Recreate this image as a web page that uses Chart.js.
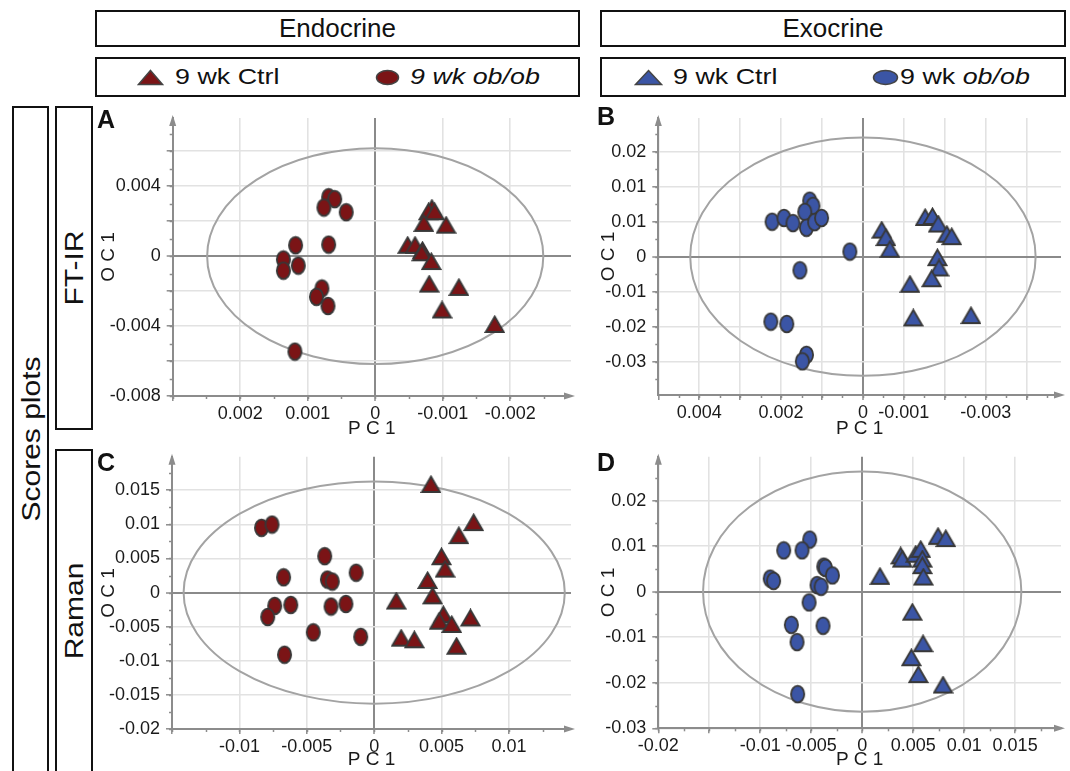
<!DOCTYPE html>
<html>
<head>
<meta charset="utf-8">
<script src="https://cdn.jsdelivr.net/npm/chart.js@4.4.1/dist/chart.umd.min.js"></script>
<style>
body { margin: 0; background: #fff; font-family: "Liberation Sans", Arial, sans-serif; color: #111; }
#page { position: relative; width: 1070px; height: 771px; overflow: hidden; }
.box { position: absolute; border: 2px solid #111; box-sizing: border-box; background: #fff; }
.abs { position: absolute; white-space: nowrap; }
.head { display: flex; align-items: center; justify-content: center; font-size: 26px; }
.leg { font-size: 22px; line-height: 22px; transform: scaleX(1.22); transform-origin: left center; }
.vert { font-size: 25px; line-height: 25px; transform: translate(-50%, -50%) rotate(-90deg) scaleX(1.2); }
.letter { font-weight: bold; font-size: 25px; line-height: 25px; }
canvas { position: absolute; }
</style>
</head>
<body>
<div id="page">
  <div class="box head" style="left:95px;top:10px;width:485px;height:37px;">Endocrine</div>
  <div class="box head" style="left:600px;top:10px;width:466px;height:37px;">Exocrine</div>
  <div class="box" style="left:95px;top:57px;width:485px;height:40px;"></div>
  <div class="box" style="left:600px;top:57px;width:466px;height:40px;"></div>

  <svg class="abs" style="left:137px;top:69px" width="27" height="17"><polygon points="13.5,1.5 25.5,15.5 1.5,15.5" fill="#7b1416" stroke="#444" stroke-width="1.5"/></svg>
  <div class="abs leg" style="left:175px;top:66px;">9 wk Ctrl</div>
  <svg class="abs" style="left:375px;top:69px" width="25" height="17"><ellipse cx="12.5" cy="8.5" rx="11" ry="7" fill="#7b1416" stroke="#444" stroke-width="1.5"/></svg>
  <div class="abs leg" style="left:410px;top:66px;font-style:italic;">9 wk ob/ob</div>

  <svg class="abs" style="left:634px;top:69px" width="29" height="17"><polygon points="14.5,1.5 27.5,15.5 1.5,15.5" fill="#3b55a5" stroke="#444" stroke-width="1.5"/></svg>
  <div class="abs leg" style="left:673px;top:66px;">9 wk Ctrl</div>
  <svg class="abs" style="left:872px;top:69px" width="27" height="17"><ellipse cx="13.5" cy="8.5" rx="12" ry="7" fill="#3b55a5" stroke="#444" stroke-width="1.5"/></svg>
  <div class="abs leg" style="left:900px;top:66px;">9 wk <i>ob/ob</i></div>

  <div class="box" style="left:12px;top:106px;width:37px;height:690px;"></div>
  <div class="box" style="left:55px;top:106px;width:38px;height:324px;"></div>
  <div class="box" style="left:55px;top:449px;width:38px;height:340px;"></div>
  <div class="abs vert" style="left:31px;top:439px;">Scores plots</div>
  <div class="abs vert" style="left:74px;top:268px;">FT-IR</div>
  <div class="abs vert" style="left:74px;top:611px;">Raman</div>

  <canvas id="chartA" width="490" height="340" style="left:90px;top:100px;"></canvas>
  <canvas id="chartB" width="485" height="340" style="left:585px;top:100px;"></canvas>
  <canvas id="chartC" width="490" height="331" style="left:90px;top:440px;"></canvas>
  <canvas id="chartD" width="485" height="331" style="left:585px;top:440px;"></canvas>

  <div class="abs letter" style="left:97px;top:107px;">A</div>
  <div class="abs letter" style="left:597px;top:104px;">B</div>
  <div class="abs letter" style="left:97px;top:450px;">C</div>
  <div class="abs letter" style="left:597px;top:450px;">D</div>
</div>

<script>
// A: endocrine, FT-IR
const endoFtirCtrlX = [-0.00084, -0.00079, -0.00088, -0.00072, -0.00105, -0.00048, -0.00059, -0.00070, -0.00069, -0.00083, -0.00080, -0.00124, -0.00099, -0.00177];
const endoFtirCtrlY = [0.00274, 0.00254, 0.00254, 0.00187, 0.00177, 0.00062, 0.00062, 0.00033, 0.00019, -0.00031, -0.00160, -0.00179, -0.00308, -0.00391];
const endoFtirObX = [0.00069, 0.00060, 0.00076, 0.00043, 0.00118, 0.00069, 0.00136, 0.00136, 0.00114, 0.00079, 0.00087, 0.00070, 0.00119];
const endoFtirObY = [0.00337, 0.00326, 0.00278, 0.00251, 0.00062, 0.00066, -0.00019, -0.00083, -0.00054, -0.00185, -0.00233, -0.00285, -0.00546];
const endoFtirXTicks = [0.002, 0.001, 0, -0.001, -0.002];
const endoFtirXLabels = ['0.002', '0.001', '0', '-0.001', '-0.002'];
const endoFtirYTicks = [0.004, 0, -0.004, -0.008];
const endoFtirYLabels = ['0.004', '0', '-0.004', '-0.008'];

// B: exocrine, FT-IR
const exoFtirCtrlX = [-0.00046, -0.00056, -0.00066, -0.00152, -0.00170, -0.00184, -0.00205, -0.00217, -0.00182, -0.00186, -0.00168, -0.00115, -0.00123, -0.00264];
const exoFtirCtrlY = [0.0057, 0.0041, 0.0016, 0.0084, 0.0086, 0.0070, 0.0048, 0.0043, -0.0002, -0.0024, -0.0047, -0.0059, -0.0131, -0.0126];
const exoFtirObX = [0.00130, 0.00122, 0.00142, 0.00222, 0.00193, 0.00171, 0.00138, 0.00118, 0.00101, 0.00032, 0.00154, 0.00225, 0.00186, 0.00138, 0.00148];
const exoFtirObY = [0.0120, 0.0109, 0.0096, 0.0075, 0.0083, 0.0072, 0.0062, 0.0074, 0.0083, 0.0011, -0.0029, -0.0139, -0.0144, -0.0210, -0.0224];
const exoFtirXTicks = [0.004, 0.002, 0, -0.001, -0.003];
const exoFtirXLabels = ['0.004', '0.002', '0', '-0.001', '-0.003'];
const exoFtirYTicks = [0.0225, 0.015, 0.0075, 0, -0.0075, -0.015, -0.0225];
const exoFtirYLabels = ['0.02', '0.01', '0.01', '0', '-0.01', '-0.02', '-0.03'];

// C: endocrine, Raman
const endoRamanCtrlX = [0.00421, 0.00738, 0.00628, 0.00499, 0.00526, 0.00396, 0.00433, 0.00164, 0.00513, 0.00482, 0.00575, 0.00714, 0.00200, 0.00298, 0.00611];
const endoRamanCtrlY = [0.01584, 0.01026, 0.00835, 0.00525, 0.00344, 0.00177, -0.00048, -0.00124, -0.00324, -0.00420, -0.00468, -0.00372, -0.00668, -0.00692, -0.00787];
const endoRamanObX = [-0.00836, -0.00758, -0.00367, -0.00672, -0.00347, -0.00311, -0.00134, -0.00738, -0.00619, -0.00790, -0.00320, -0.00210, -0.00452, -0.00100, -0.00665];
const endoRamanObY = [0.00949, 0.00997, 0.00534, 0.00224, 0.00191, 0.00162, 0.00291, -0.00196, -0.00181, -0.00358, -0.00205, -0.00167, -0.00582, -0.00649, -0.00911];
const endoRamanXTicks = [-0.01, -0.005, 0, 0.005, 0.01];
const endoRamanXLabels = ['-0.01', '-0.005', '0', '0.005', '0.01'];
const endoRamanYTicks = [0.015, 0.01, 0.005, 0, -0.005, -0.01, -0.015, -0.02];
const endoRamanYLabels = ['0.015', '0.01', '0.005', '0', '-0.005', '-0.01', '-0.015', '-0.02'];

// D: exocrine, Raman
const exoRamanCtrlX = [0.00174, 0.00377, 0.00393, 0.00525, 0.00574, 0.00590, 0.00590, 0.00600, 0.00744, 0.00820, 0.00492, 0.00597, 0.00482, 0.00551, 0.00793];
const exoRamanCtrlY = [0.00336, 0.00786, 0.00714, 0.00821, 0.00929, 0.00714, 0.00571, 0.00321, 0.01214, 0.01164, -0.00450, -0.01143, -0.01450, -0.01821, -0.02050];
const exoRamanObX = [-0.00515, -0.00770, -0.00590, -0.00377, -0.00361, -0.00292, -0.00902, -0.00869, -0.00443, -0.00403, -0.00521, -0.00695, -0.00384, -0.00639, -0.00633];
const exoRamanObY = [0.01143, 0.00907, 0.00907, 0.00550, 0.00521, 0.00357, 0.00286, 0.00236, 0.00143, 0.00107, -0.00236, -0.00729, -0.00750, -0.01107, -0.02250];
const exoRamanXTicks = [-0.02, -0.01, -0.005, 0, 0.005, 0.01, 0.015];
const exoRamanXLabels = ['-0.02', '-0.01', '-0.005', '0', '0.005', '0.01', '0.015'];
const exoRamanYTicks = [0.02, 0.01, 0, -0.01, -0.02, -0.03];
const exoRamanYLabels = ['0.02', '0.01', '0', '-0.01', '-0.02', '-0.03'];

// 95% ellipse half-widths [PC1, OC1]
const endoFtirEllipse = [0.00249, 0.00617];
const exoFtirEllipse = [0.00422, 0.0255];
const endoRamanEllipse = [0.01414, 0.01629];
const exoRamanEllipse = [0.01561, 0.02636];

const RED = '#7b1416';
const BLUE = '#3b55a5';
const EDGE = '#383838';
const AXIS = '#8c8c8c';
const FONT = 'Liberation Sans, Arial, sans-serif';

function circleMark(fill) {
    const c = document.createElement('canvas');
    c.width = 17; c.height = 20;
    const g = c.getContext('2d');
    g.beginPath();
    g.ellipse(8.5, 10, 6.6, 8.3, 0, 0, Math.PI * 2);
    g.fillStyle = fill; g.fill();
    g.lineWidth = 1.8; g.strokeStyle = EDGE; g.stroke();
    return c;
}

function triangleMark(fill) {
    const c = document.createElement('canvas');
    c.width = 21; c.height = 19;
    const g = c.getContext('2d');
    g.beginPath();
    g.moveTo(10.5, 1.5); g.lineTo(19.5, 17); g.lineTo(1.5, 17); g.closePath();
    g.fillStyle = fill; g.fill();
    g.lineWidth = 1.8; g.lineJoin = 'miter'; g.strokeStyle = EDGE; g.stroke();
    return c;
}

function zip(xs, ys) {
    return xs.map((x, i) => ({ x: x, y: ys[i] }));
}

function labelFor(vals, labels) {
    return function(value) {
        for (let i = 0; i < vals.length; i++) {
            if (Math.abs(vals[i] - value) < 1e-9) return labels[i];
        }
        return '';
    };
}

// ellipse, axis arrows and minor ticks
const decoPlugin = {
    id: 'deco',
    beforeDatasetsDraw(chart, args, opts) {
        const xs = chart.scales.x, ys = chart.scales.y, ctx = chart.ctx;
        const cx = xs.getPixelForValue(0), cy = ys.getPixelForValue(0);
        const rx = Math.abs(xs.getPixelForValue(opts.ellipse[0]) - cx);
        const ry = Math.abs(ys.getPixelForValue(opts.ellipse[1]) - cy);
        ctx.save();
        ctx.beginPath();
        ctx.ellipse(cx, cy, rx, ry, 0, 0, Math.PI * 2);
        ctx.lineWidth = 2;
        ctx.strokeStyle = '#a3a3a3';
        ctx.stroke();
        ctx.restore();
    },
    afterDraw(chart, args, opts) {
        const xs = chart.scales.x, ys = chart.scales.y, ctx = chart.ctx;
        const a = chart.chartArea;
        ctx.save();
        ctx.strokeStyle = AXIS; ctx.fillStyle = AXIS; ctx.lineWidth = 1.5;
        // minor ticks
        let v = Math.ceil(xs.min / opts.xMinor) * opts.xMinor;
        for (; v <= xs.max; v += opts.xMinor) {
            const p = Math.round(xs.getPixelForValue(v)) + 0.5;
            ctx.beginPath(); ctx.moveTo(p, a.bottom); ctx.lineTo(p, a.bottom + 3); ctx.stroke();
        }
        v = Math.ceil(ys.min / opts.yMinor) * opts.yMinor;
        for (; v <= ys.max; v += opts.yMinor) {
            const p = Math.round(ys.getPixelForValue(v)) + 0.5;
            ctx.beginPath(); ctx.moveTo(a.left - 3, p); ctx.lineTo(a.left, p); ctx.stroke();
        }
        // arrows
        ctx.beginPath();
        ctx.moveTo(a.left, a.top - 3); ctx.lineTo(a.left - 3.5, a.top + 8); ctx.lineTo(a.left + 3.5, a.top + 8);
        ctx.closePath(); ctx.fill();
        ctx.beginPath();
        ctx.moveTo(a.right + 4, a.bottom); ctx.lineTo(a.right - 7, a.bottom - 3.5); ctx.lineTo(a.right - 7, a.bottom + 3.5);
        ctx.closePath(); ctx.fill();
        ctx.restore();
    }
};

function gridColor(c) {
    return c.tick && Math.abs(c.tick.value) < 1e-10 ? '#8a8a8a' : '#e2e2e2';
}
function gridWidth(c) {
    return c.tick && Math.abs(c.tick.value) < 1e-10 ? 2 : 1.6;
}

function makePanel(id, p) {
    const tickFont = { family: FONT, size: 18 };
    const titleFont = { family: FONT, size: 19 };
    new Chart(document.getElementById(id), {
        type: 'scatter',
        data: {
            datasets: [
                { label: '9 wk ob/ob', data: zip(p.obX, p.obY), pointStyle: circleMark(p.color), pointRadius: 7 },
                { label: '9 wk Ctrl', data: zip(p.ctrlX, p.ctrlY), pointStyle: triangleMark(p.color), pointRadius: 8 }
            ]
        },
        plugins: [decoPlugin],
        options: {
            responsive: false,
            animation: false,
            events: [],
            layout: { padding: { left: p.padL, right: p.padR, top: p.padT, bottom: 0 } },
            plugins: {
                legend: { display: false },
                tooltip: { enabled: false },
                deco: { ellipse: p.ellipse, xMinor: p.xMinor, yMinor: p.yMinor }
            },
            scales: {
                x: {
                    type: 'linear',
                    min: p.xMin, max: p.xMax, reverse: p.reverse,
                    afterFit(s) { s.height = p.xH; },
                    ticks: {
                        stepSize: p.xStep, autoSkip: false, includeBounds: false, maxRotation: 0,
                        padding: 2, font: tickFont, color: '#1a1a1a',
                        callback: labelFor(p.xTicks, p.xLabels)
                    },
                    grid: { color: gridColor, lineWidth: gridWidth, tickLength: 5, tickColor: AXIS, tickWidth: 1.5 },
                    border: { color: AXIS, width: 2 },
                    title: { display: true, text: 'P C 1', font: titleFont, color: '#1a1a1a', padding: 0 }
                },
                y: {
                    type: 'linear',
                    min: p.yMin, max: p.yMax,
                    afterFit(s) { s.width = p.yW; },
                    ticks: {
                        stepSize: p.yStep, autoSkip: false, includeBounds: false,
                        padding: 6, font: tickFont, color: '#1a1a1a',
                        callback: labelFor(p.yTicks, p.yLabels)
                    },
                    grid: { color: gridColor, lineWidth: gridWidth, tickLength: 6, tickColor: AXIS, tickWidth: 1.5 },
                    border: { color: AXIS, width: 2 },
                    title: { display: true, text: 'O C 1', font: titleFont, color: '#1a1a1a', padding: 0 }
                }
            }
        }
    });
}

makePanel('chartA', {
    color: RED, ctrlX: endoFtirCtrlX, ctrlY: endoFtirCtrlY, obX: endoFtirObX, obY: endoFtirObY,
    xTicks: endoFtirXTicks, xLabels: endoFtirXLabels, yTicks: endoFtirYTicks, yLabels: endoFtirYLabels,
    ellipse: endoFtirEllipse,
    xMin: -0.0029, xMax: 0.003, reverse: true, xStep: 0.001, xMinor: 0.0005,
    yMin: -0.008, yMax: 0.0079, yStep: 0.002, yMinor: 0.001,
    padL: 7, padR: 3, padT: 18, yW: 75.7, xH: 44
});

makePanel('chartB', {
    color: BLUE, ctrlX: exoFtirCtrlX, ctrlY: exoFtirCtrlY, obX: exoFtirObX, obY: exoFtirObY,
    xTicks: exoFtirXTicks, xLabels: exoFtirXLabels, yTicks: exoFtirYTicks, yLabels: exoFtirYLabels,
    ellipse: exoFtirEllipse,
    xMin: -0.00484, xMax: 0.005, reverse: true, xStep: 0.001, xMinor: 0.0005,
    yMin: -0.0296, yMax: 0.0297, yStep: 0.0075, yMinor: 0.00375,
    padL: 12.7, padR: 8, padT: 18, yW: 60.6, xH: 45
});

makePanel('chartC', {
    color: RED, ctrlX: endoRamanCtrlX, ctrlY: endoRamanCtrlY, obX: endoRamanObX, obY: endoRamanObY,
    xTicks: endoRamanXTicks, xLabels: endoRamanXLabels, yTicks: endoRamanYTicks, yLabels: endoRamanYLabels,
    ellipse: endoRamanEllipse,
    xMin: -0.015, xMax: 0.0146, reverse: false, xStep: 0.005, xMinor: 0.0025,
    yMin: -0.02, yMax: 0.0199, yStep: 0.005, yMinor: 0.0025,
    padL: 7, padR: 3, padT: 9.3, yW: 75, xH: 42
});

makePanel('chartD', {
    color: BLUE, ctrlX: exoRamanCtrlX, ctrlY: exoRamanCtrlY, obX: exoRamanObX, obY: exoRamanObY,
    xTicks: exoRamanXTicks, xLabels: exoRamanXLabels, yTicks: exoRamanYTicks, yLabels: exoRamanYLabels,
    ellipse: exoRamanEllipse,
    xMin: -0.02, xMax: 0.0195, reverse: false, xStep: 0.005, xMinor: 0.0025,
    yMin: -0.03, yMax: 0.0296, yStep: 0.01, yMinor: 0.005,
    padL: 12.7, padR: 8, padT: 10, yW: 60.6, xH: 42.7
});
</script>
</body>
</html>
